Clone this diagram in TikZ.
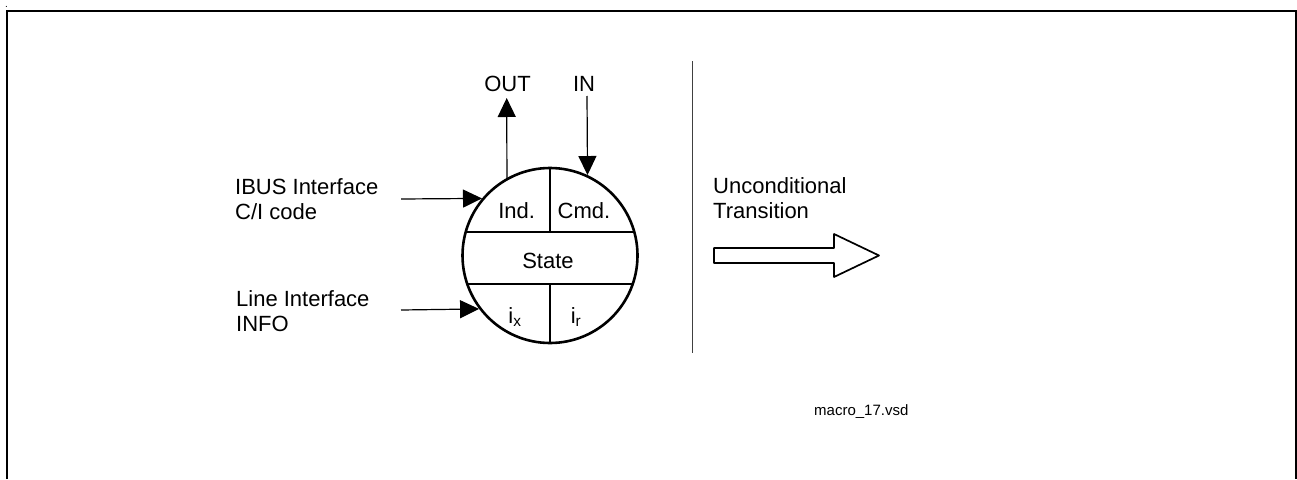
\documentclass[tikz,border=0pt]{standalone}
\usepackage{fontspec}
\setmainfont{Liberation Sans}
\usetikzlibrary{arrows.meta}
\begin{document}
\begin{tikzpicture}[x=1pt,y=1pt,
  lbl/.style={inner sep=0pt, font=\fontsize{22}{25.6}\selectfont, align=left},
  small/.style={inner sep=0pt, font=\fontsize{15}{18}\selectfont},
  thin arrow/.style={line width=1.2pt, -{Triangle[length=19pt,width=18pt]}},
  bold/.style={line width=2.6pt},
  frame/.style={line width=2pt}]
\useasboundingbox (0,0) rectangle (1297,-479);
% frame
\draw[frame] (6.7,-479) -- (6.7,-11) -- (1296,-11) -- (1296,-479);
\node[inner sep=0pt, font=\fontsize{10}{10}\selectfont, anchor=base] (dot) at (6.5,-7.5) {.};
% state circle
\node[circle, draw, bold, minimum size=175pt, inner sep=0pt] (c) at (550,-255.5) {};
\begin{scope}
  \clip (550,-255.5) circle[radius=87.5pt];
  \draw[bold] (450,-232) -- (650,-232);
  \draw[bold] (450,-284) -- (650,-284);
  \draw[bold] (550,-160) -- (550,-232);
  \draw[bold] (550,-284) -- (550,-350);
\end{scope}
\node[lbl, anchor=base] (ind) at (516.7,-218) {Ind.};
\node[lbl, anchor=base] (cmd) at (584,-218) {Cmd.};
\node[lbl, anchor=base] (state) at (548,-268) {State};
\node[lbl, anchor=base] (ix) at (515,-323) {i\textsubscript{x}};
\node[lbl, anchor=base] (ir) at (576,-323) {i\textsubscript{r}};
% OUT / IN
\node[lbl, anchor=base] (out) at (507.5,-91) {OUT};
\node[lbl, anchor=base] (in) at (584,-91) {IN};
\coordinate (outtip) at (506.7,-98);
\coordinate (instart) at (587,-96);
\draw[thin arrow] (c.119.2) -- (outtip);
\draw[thin arrow] (instart) -- (c.65.36);
% left inputs
\node[lbl, anchor=north west] (ibus) at (235,-178) {IBUS Interface\\C/I code};
\node[lbl, anchor=north west] (line) at (236,-290) {Line Interface\\INFO};
\coordinate (ibusstart) at (401,-199);
\coordinate (linestart) at (401,-310);
\draw[thin arrow] (ibusstart) -- (c.140.46);
\draw[thin arrow] (linestart) -- (c.217.89);
% separator
\coordinate (septop) at (692.7,-61);
\coordinate (sepbot) at (692.7,-353);
\draw[line width=1.3pt, black!75] (septop) -- (sepbot);
% unconditional transition
\node[lbl, anchor=north west] (uncond) at (713,-177) {Unconditional\\Transition};
\draw[line width=1.7pt, line join=round]
  (714,-248) -- (834,-248) -- (834,-234) -- (879,-255.5) -- (834,-277)
  -- (834,-263) -- (714,-263) -- cycle;
\node[small, anchor=base west] (file) at (814,-415) {macro\_17.vsd};
\end{tikzpicture}
\end{document}
